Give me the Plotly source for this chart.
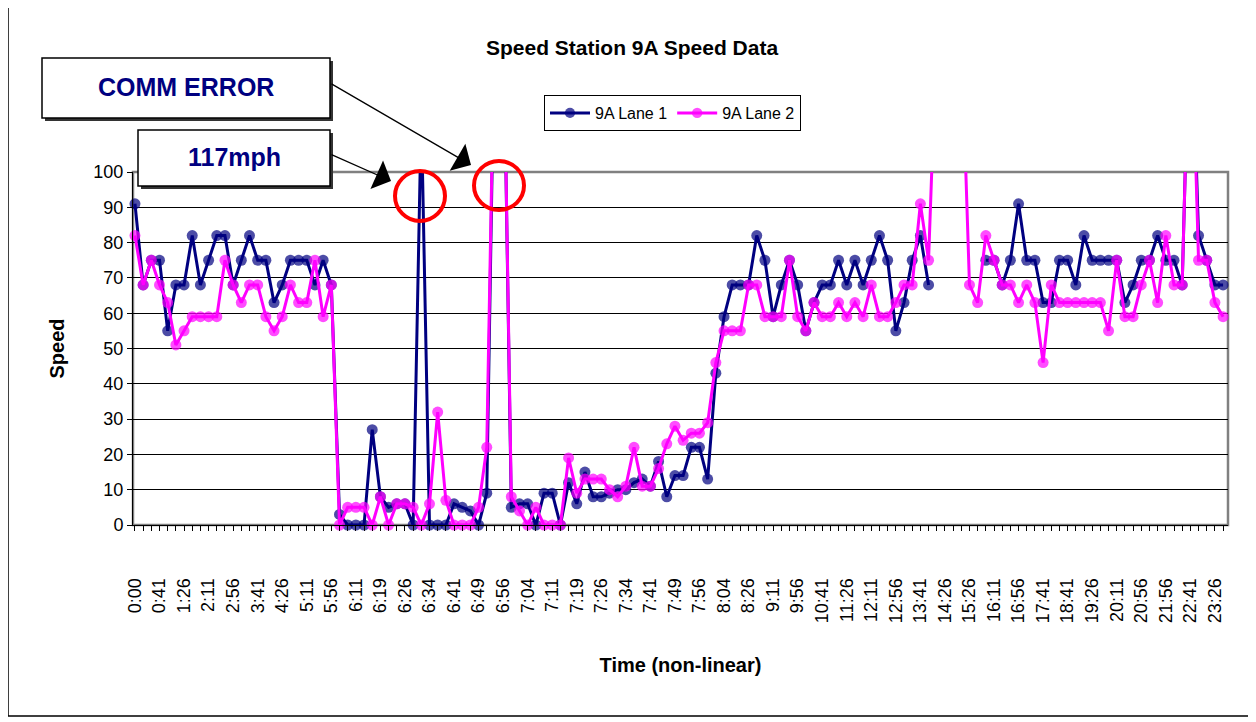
import plotly.graph_objects as go

# time stamps (non-linear sampling), one per reading
times = ["0:00", "0:11", "0:26", "0:41", "0:56", "1:11", "1:26", "1:41", "1:56", "2:11",
         "2:26", "2:41", "2:56", "3:11", "3:26", "3:41", "3:56", "4:11", "4:26", "4:41",
         "4:56", "5:11", "5:26", "5:41", "5:56", "6:01", "6:06", "6:11", "6:14", "6:16",
         "6:19", "6:21", "6:24", "6:26", "6:29", "6:31", "6:34", "6:36", "6:39", "6:41",
         "6:44", "6:46", "6:49", "6:51", "6:54", "6:56", "6:59", "7:01", "7:04", "7:06",
         "7:09", "7:11", "7:14", "7:16", "7:19", "7:21", "7:24", "7:26", "7:29", "7:31",
         "7:34", "7:36", "7:39", "7:41", "7:44", "7:46", "7:49", "7:51", "7:54", "7:56",
         "7:59", "8:01", "8:04", "8:11", "8:19", "8:26", "8:41", "8:56", "9:11", "9:26",
         "9:41", "9:56", "10:11", "10:26", "10:41", "10:56", "11:11", "11:26", "11:41", "11:56",
         "12:11", "12:26", "12:41", "12:56", "13:11", "13:26", "13:41", "13:56", "14:11", "14:26",
         "14:46", "15:06", "15:26", "15:41", "15:56", "16:11", "16:26", "16:41", "16:56", "17:11",
         "17:26", "17:41", "18:01", "18:21", "18:41", "18:56", "19:11", "19:26", "19:41", "19:56",
         "20:11", "20:26", "20:41", "20:56", "21:16", "21:36", "21:56", "22:11", "22:26", "22:41",
         "22:56", "23:11", "23:26", "23:41"]

lane1 = [91, 68, 75, 75, 55, 68, 68, 82, 68, 75,
         82, 82, 68, 75, 82, 75, 75, 63, 68, 75,
         75, 75, 68, 75, 68, 3, 0, 0, 0, 27,
         8, 5, 6, 6, 0, 117, 0, 0, 0, 6,
         5, 4, 0, 9, 150, 150, 5, 6, 6, 0,
         9, 9, 0, 12, 6, 15, 8, 8, 9, 10,
         10, 12, 13, 11, 18, 8, 14, 14, 22, 22,
         13, 43, 59, 68, 68, 68, 82, 75, 59, 68,
         75, 68, 55, 63, 68, 68, 75, 68, 75, 68,
         75, 82, 75, 55, 63, 75, 82, 68, None, None,
         None, None, None, None, 75, 75, 68, 75, 91, 75,
         75, 63, 63, 75, 75, 68, 82, 75, 75, 75,
         75, 63, 68, 75, 75, 82, 75, 75, 68, 155,
         82, 75, 68, 68]

lane2 = [82, 68, 75, 68, 63, 51, 55, 59, 59, 59,
         59, 75, 68, 63, 68, 68, 59, 55, 59, 68,
         63, 63, 75, 59, 68, 0, 5, 5, 5, 0,
         8, 0, 6, 6, 5, 0, 6, 32, 7, 0,
         0, 0, 5, 22, 150, 150, 8, 4, 0, 5,
         0, 0, 0, 19, 9, 13, 13, 13, 10, 8,
         11, 22, 11, 11, 16, 23, 28, 24, 26, 26,
         29, 46, 55, 55, 55, 68, 68, 59, 59, 59,
         75, 59, 55, 63, 59, 59, 63, 59, 63, 59,
         68, 59, 59, 63, 68, 68, 91, 75, 140, 140,
         140, 140, 68, 63, 82, 75, 68, 68, 63, 68,
         63, 46, 68, 63, 63, 63, 63, 63, 63, 55,
         75, 59, 59, 68, 75, 63, 82, 68, 68, 155,
         75, 75, 63, 59]

# the page body adds an 8px margin around the figure
OFF = 8
FW, FH = 1256 - OFF, 722 - OFF

# plot area in page pixels
L, R, T, B = 133, 1228, 172, 525
W, H = R - L, B - T


def px(x):
    return (x - L) / W


def py(y):
    return (B - y) / H


def msize(vals):
    # hide markers of readings that run off the top of the scale
    return [11 if v is not None and v <= 100 else 0 for v in vals]


fig = go.Figure()
fig.add_trace(go.Scatter(x=times, y=lane1, name="9A Lane 1", mode="lines+markers",
                         line=dict(color="#000080", width=3),
                         marker=dict(color="#000080", size=msize(lane1), line=dict(width=0)),
                         cliponaxis=False, connectgaps=False))
fig.add_trace(go.Scatter(x=times, y=lane2, name="9A Lane 2", mode="lines+markers",
                         line=dict(color="#FF00FF", width=3),
                         marker=dict(color="#FF00FF", size=msize(lane2), line=dict(width=0)),
                         cliponaxis=False, connectgaps=False))

ticktext = [t if i % 3 == 0 else "" for i, t in enumerate(times)]

shapes = [
    # outer chart border
    dict(type="rect", xref="paper", yref="paper", x0=px(8), x1=px(1250), y0=py(716), y1=py(6),
         line=dict(color="black", width=1.5)),
    # plot area border
    dict(type="rect", xref="paper", yref="paper", x0=0, x1=1, y0=0, y1=1, layer="between",
         line=dict(color="#808080", width=2.5)),
    # note boxes with shadows
    dict(type="rect", xref="paper", yref="paper", x0=px(45), x1=px(333), y0=py(121), y1=py(61),
         fillcolor="#333333", line=dict(width=0)),
    dict(type="rect", xref="paper", yref="paper", x0=px(42), x1=px(330), y0=py(118), y1=py(58),
         fillcolor="white", line=dict(color="black", width=1.5)),
    dict(type="rect", xref="paper", yref="paper", x0=px(141), x1=px(333), y0=py(189), y1=py(133),
         fillcolor="#333333", line=dict(width=0)),
    dict(type="rect", xref="paper", yref="paper", x0=px(138), x1=px(330), y0=py(186), y1=py(130),
         fillcolor="white", line=dict(color="black", width=1.5)),
    # red circles
    dict(type="circle", xref="paper", yref="paper", x0=px(395), x1=px(445), y0=py(221), y1=py(171),
         line=dict(color="#FF0000", width=4)),
    dict(type="circle", xref="paper", yref="paper", x0=px(474), x1=px(524), y0=py(210), y1=py(161),
         line=dict(color="#FF0000", width=4)),
]

annotations = [
    dict(text="COMM ERROR", xref="paper", yref="paper", x=px(186), y=py(87), showarrow=False,
         xanchor="center", yanchor="middle",
         font=dict(size=25, color="#000080", weight="bold")),
    dict(text="117mph", xref="paper", yref="paper", x=px(234), y=py(157), showarrow=False,
         xanchor="center", yanchor="middle",
         font=dict(size=25, color="#000080", weight="bold")),
    dict(text="", xref="paper", yref="paper", x=px(471), y=py(165), ax=330 - 471, ay=83 - 165,
         showarrow=True, arrowhead=1, arrowsize=4, arrowwidth=1.3, arrowcolor="black"),
    dict(text="", xref="paper", yref="paper", x=px(391), y=py(181), ax=330 - 391, ay=154 - 181,
         showarrow=True, arrowhead=1, arrowsize=4, arrowwidth=1.3, arrowcolor="black"),
]

fig.update_layout(
    width=FW, height=FH,
    margin=dict(l=L - OFF, r=FW - (R - OFF), t=T - OFF, b=FH - (B - OFF), autoexpand=False),
    paper_bgcolor="white", plot_bgcolor="white",
    font=dict(family="Arial, Liberation Sans, sans-serif", color="black"),
    title=dict(text="Speed Station 9A Speed Data", x=px(632), xref="paper", xanchor="center",
               y=1 - (48 - OFF) / FH, yref="container", yanchor="middle",
               font=dict(size=21, weight="bold")),
    legend=dict(orientation="h", x=px(544), y=py(95), xanchor="left", yanchor="top",
                bordercolor="black", borderwidth=1, bgcolor="white", font=dict(size=16),
                itemwidth=40),
    shapes=shapes,
    annotations=annotations,
    xaxis=dict(type="category", range=[-0.24, 133.6], tickmode="array", tickvals=times,
               ticktext=ticktext, tickangle=-90, ticks="outside", ticklen=5, tickcolor="black",
               showline=True, linecolor="black", linewidth=1, showgrid=False, zeroline=False,
               tickfont=dict(size=18), ticklabelstandoff=40, automargin=False,
               title=dict(text="Time (non-linear)", font=dict(size=20, weight="bold"), standoff=35)),
    yaxis=dict(range=[0, 100], tick0=0, dtick=10, ticks="outside", ticklen=5, tickcolor="black",
               showline=True, linecolor="black", linewidth=1, showgrid=True, gridcolor="black",
               gridwidth=1, zeroline=False, tickfont=dict(size=18), automargin=False,
               title=dict(text="Speed", font=dict(size=20, weight="bold"), standoff=23)),
)

fig.write_html("out.html")
